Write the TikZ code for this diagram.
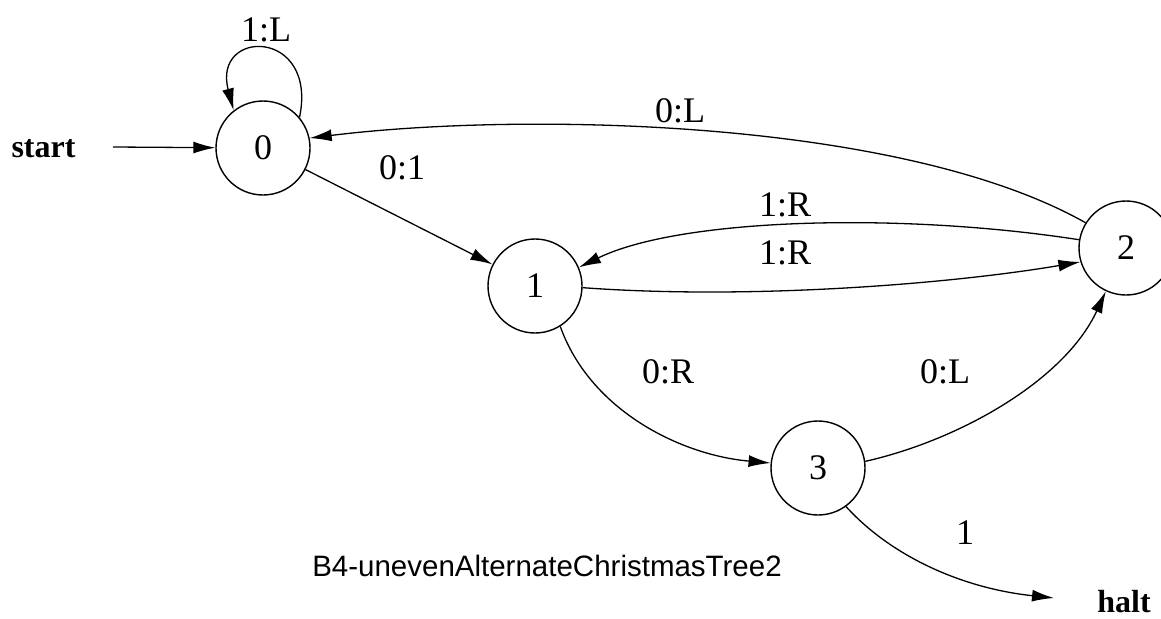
\documentclass[tikz,border=0pt]{standalone}
\usepackage{fontspec}
\setmainfont{Liberation Serif}
\newfontfamily\capfont{Liberation Sans}
\usetikzlibrary{arrows.meta}

\tikzset{
  state/.style={draw, circle, line width=1.4pt, minimum size=94pt, inner sep=0pt,
                font=\fontsize{36}{40}\selectfont},
  edge/.style={line width=1.3pt, -{Latex[length=22pt,width=12pt]}},
  lbl/.style={font=\fontsize{36}{40}\selectfont, inner sep=0pt},
  term/.style={font=\fontsize{32}{36}\selectfont\bfseries, inner sep=0pt, anchor=base},
}

\begin{document}
\begin{tikzpicture}[x=1pt,y=-1pt]
  \useasboundingbox (0,0) rectangle (1161,618);

  % states
  \node[state] (q0) at (263,148) {0};
  \node[state] (q1) at (535,286) {1};
  \node[state] (q2) at (1126,248) {2};
  \node[state] (q3) at (818,468) {3};

  % entry and exit
  \node[term] (start) at (43.5,157) {start};
  \coordinate (startarr) at (113,147);
  \node[term] (halt) at (1124,612) {halt};
  \coordinate (haltarr) at (1054,598);

  % transitions
  \draw[edge] (startarr) -- (q0);
  \draw[edge] (q0.40) .. controls (318,28) and (212,28) .. (q0.128);
  \draw[edge] (q2.148) .. controls (900,118) and (520,112) .. (q0.12);
  \draw[edge] (q0) -- (q1);
  \draw[edge] (q2.170) .. controls (900,212) and (680,218) .. (q1.23);
  \draw[edge] (q1.-2) .. controls (750,300) and (950,284) .. (q2.197);
  \draw[edge] (q1.-58) .. controls (590,410) and (680,455) .. (q3.174);
  \draw[edge] (q3.8) .. controls (960,440) and (1065,380) .. (q2.-115);
  \draw[edge] (q3.-54) .. controls (890,555) and (960,588) .. (haltarr);

  % transition labels
  \node[lbl] (l00) at (266,30) {1:L};
  \node[lbl] (l20) at (680,111) {0:L};
  \node[lbl] (l01) at (402,168) {0:1};
  \node[lbl] (l21) at (785,205) {1:R};
  \node[lbl] (l12) at (785,253) {1:R};
  \node[lbl] (l13) at (668,372) {0:R};
  \node[lbl] (l32) at (945,372) {0:L};
  \node[lbl] (l3h) at (965,533) {1};

  % caption
  \node[font=\capfont\fontsize{29.5}{34}\selectfont, inner sep=0pt] (cap) at (547,566)
    {B4-unevenAlternateChristmasTree2};
\end{tikzpicture}
\end{document}
